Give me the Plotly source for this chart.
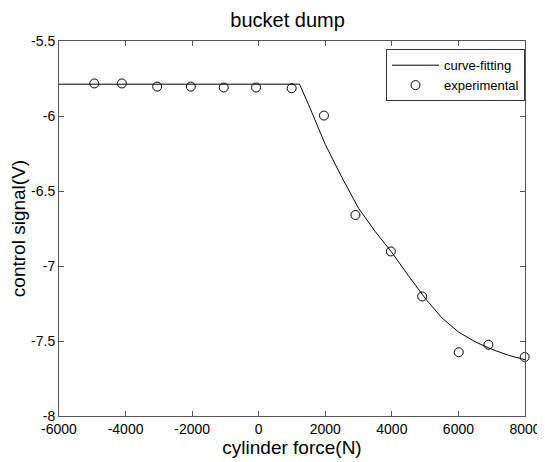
import plotly.graph_objects as go

# experimental measurements
exp_force = [-4940, -4110, -3050, -2040, -1050, -80, 990, 1960, 2905, 3970, 4910, 6010, 6900, 7990]
exp_signal = [-5.783, -5.783, -5.804, -5.804, -5.81, -5.81, -5.815, -5.997, -6.66, -6.903, -7.203, -7.575, -7.525, -7.607]

# fitted curve
fit_force = [-6000, 1225, 1500, 2000, 2500, 3000, 3500, 4000, 4500, 5000, 5500, 6000, 6500, 7000, 7500, 8000]
fit_signal = [-5.788, -5.788, -5.925, -6.19, -6.41, -6.615, -6.77, -6.91, -7.065, -7.215, -7.345, -7.44, -7.505, -7.555, -7.595, -7.625]

x_ticks = [-6000, -4000, -2000, 0, 2000, 4000, 6000, 8000]
y_ticks = [-8, -7.5, -7, -6.5, -6, -5.5]

fnt = "Liberation Sans, Arial, sans-serif"

fig = go.Figure()
fig.add_trace(go.Scatter(x=fit_force, y=fit_signal, mode='lines', name='curve-fitting',
                         line=dict(color='black', width=1)))
fig.add_trace(go.Scatter(x=exp_force, y=exp_signal, mode='markers', name='experimental',
                         marker=dict(symbol='circle-open', size=9, color='black', line=dict(width=1)),
                         cliponaxis=False))

axis_style = dict(showgrid=False, zeroline=False, showline=True, linecolor='#555555', linewidth=1,
                  mirror='ticks', ticks='inside', ticklen=5, tickcolor='#555555',
                  tickfont=dict(family=fnt, size=14, color='black'))

fig.update_xaxes(range=[-6000, 8000], tickvals=x_ticks, ticktext=[str(v) for v in x_ticks],
                 title=dict(text='cylinder force(N)', font=dict(family=fnt, size=19, color='black'), standoff=4),
                 automargin=True, **axis_style)
fig.update_yaxes(range=[-8, -5.5], tickvals=y_ticks, ticktext=[('%g' % v) for v in y_ticks],
                 title=dict(text='control signal(V)', font=dict(family=fnt, size=19, color='black')),
                 automargin=False, **axis_style)

# page body adds an 8px offset, margins account for it
fig.update_layout(
    width=545, height=462,
    plot_bgcolor='white', paper_bgcolor='white',
    margin=dict(l=51, r=22, t=33, b=54),
    title=dict(text='bucket dump', x=0.513, xanchor='center', y=0.974, yanchor='middle',
               font=dict(family=fnt, size=20, color='black')),
    legend=dict(x=1, xanchor='right', y=0.978, yanchor='top', bgcolor='white',
                bordercolor='#333333', borderwidth=1, itemwidth=47,
                font=dict(family=fnt, size=13, color='black'), tracegroupgap=2),
    showlegend=True,
)

fig.write_html("out.html")
